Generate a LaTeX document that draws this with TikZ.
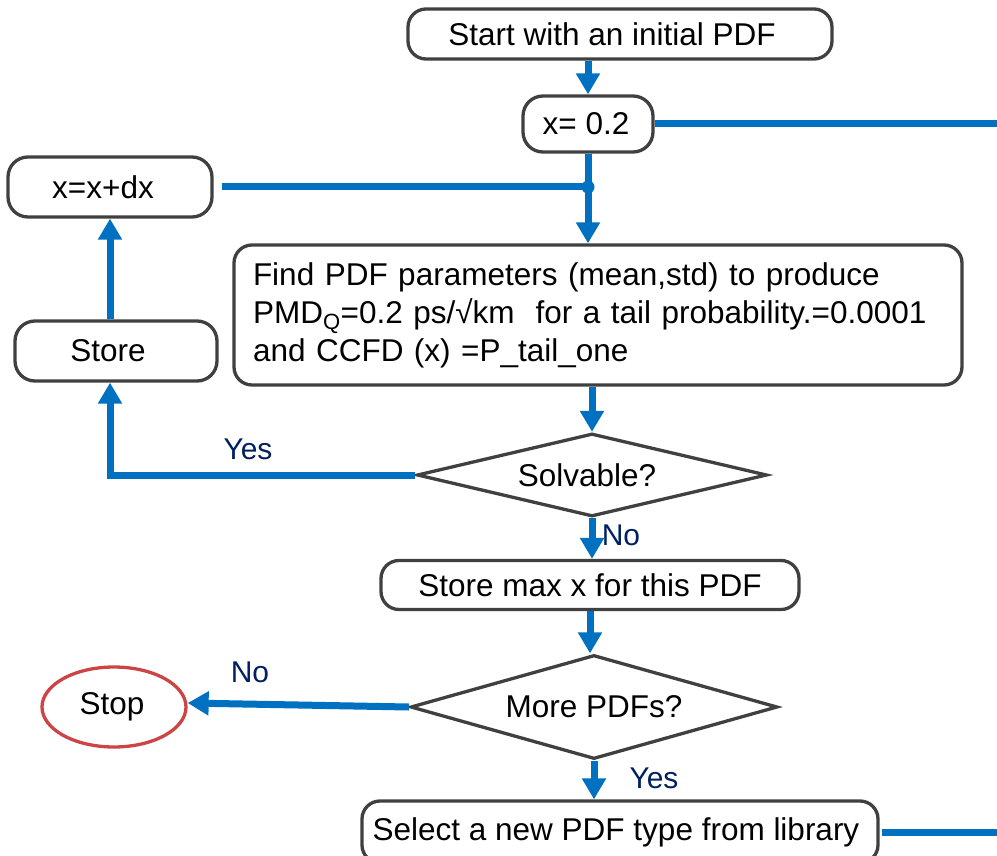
\documentclass[tikz,border=0pt]{standalone}
\usepackage{fontspec}
\setmainfont{Liberation Sans}
\usetikzlibrary{arrows.meta,shapes.geometric}
\definecolor{flowblue}{RGB}{0,112,192}
\definecolor{boxgray}{RGB}{64,64,64}
\definecolor{labnavy}{RGB}{0,32,96}
\definecolor{stopred}{RGB}{204,68,68}
\begin{document}
\begin{tikzpicture}[x=1pt,y=-1pt,
  every node/.style={font=\fontsize{31.5}{38}\selectfont},
  rbox/.style={draw=boxgray, line width=3.3pt, rounded corners=18pt, fill=white, inner sep=0pt, align=center},
  dbox/.style={draw=boxgray, line width=3.3pt, diamond, aspect=4, inner sep=0pt, fill=white},
  flow/.style={draw=flowblue, line width=7pt},
  flowarr/.style={flow, -{Triangle[width=23pt,length=21pt]}},
  lab/.style={text=labnavy, font=\fontsize{30}{36}\selectfont, inner sep=0pt}]
\useasboundingbox (0,0) rectangle (997,856);
\clip (0,0) rectangle (997,856);

% nodes
\node[rbox, minimum width=424pt, minimum height=50pt] (start) at (620,34) {Start with an initial PDF\hspace*{16pt}};
\node[rbox, minimum width=130pt, minimum height=56pt, rounded corners=20pt] (x0) at (588,124) {x= 0.2\hspace*{4pt}};
\node[rbox, minimum width=204pt, minimum height=60pt, rounded corners=20pt] (xdx) at (110,187) {x=x+dx\hspace*{14pt}};
\node[rbox, minimum width=202pt, minimum height=60pt, rounded corners=20pt] (store) at (116,351) {Store\hspace*{16pt}};
\node[rbox, minimum height=140pt, text width=690pt, inner xsep=19pt, align=left] (find) at (598,315)
  {Find PDF parameters (mean,std) to produce\\
   PMD\textsubscript{Q}=0.2 ps/√km~ for a tail probability.=0.0001\\
   and CCFD (x) =P\_tail\_one};
\node[dbox, minimum width=350pt, minimum height=83pt] (solv) at (592,475) {Solvable?\hspace*{10pt}};
\node[rbox, minimum width=418pt, minimum height=49pt] (smax) at (590,585) {Store max x for this PDF};
\node[dbox, minimum width=367pt, minimum height=104pt] (more) at (594,707) {More PDFs?};
\node[ellipse, draw=stopred, line width=3.3pt, minimum width=144pt, minimum height=80pt, inner sep=0pt] (stop) at (114,707) {Stop\hspace*{4pt}};
\node[rbox, minimum width=516pt, minimum height=62pt] (sel) at (620,832) {Select a new PDF type from library\hspace*{8pt}};

% labels
\node[lab] (lyes1) at (248,449) {Yes};
\node[lab] (lno1) at (621,535) {No};
\node[lab] (lno2) at (250,672) {No};
\node[lab] (lyes2) at (654,778) {Yes};

% connectors
\coordinate (j) at (x0.south |- xdx.east);
\coordinate (rA) at (1000,124);
\draw[flowarr] (x0.north |- start.south) -- (x0.north);
\draw[flow] (x0.east) -- (rA);
\draw[flow] (x0.south) -- (j);
\draw[flow] ([xshift=8pt]xdx.east) -- (j);
\fill[flowblue] (j) circle (6.5pt);
\draw[flowarr] (j) -- (find.north -| j);
\draw[flowarr] (find.south -| solv.north) -- (solv.north);
\draw[flowarr] (solv.west) -| (xdx.south |- store.south);
\draw[flowarr] (xdx.south |- store.north) -- (xdx.south);
\draw[flowarr] (solv.south) -- (smax.north -| solv.south);
\draw[flowarr] (smax.south) -- (more.north -| smax.south);
\draw[flowarr] (more.west) -- ([yshift=4pt]stop.east);
\draw[flowarr] (more.south) -- (sel.north -| more.south);
\draw[flow] ([xshift=2pt]sel.east) -- (sel.east -| rA);
\end{tikzpicture}
\end{document}
